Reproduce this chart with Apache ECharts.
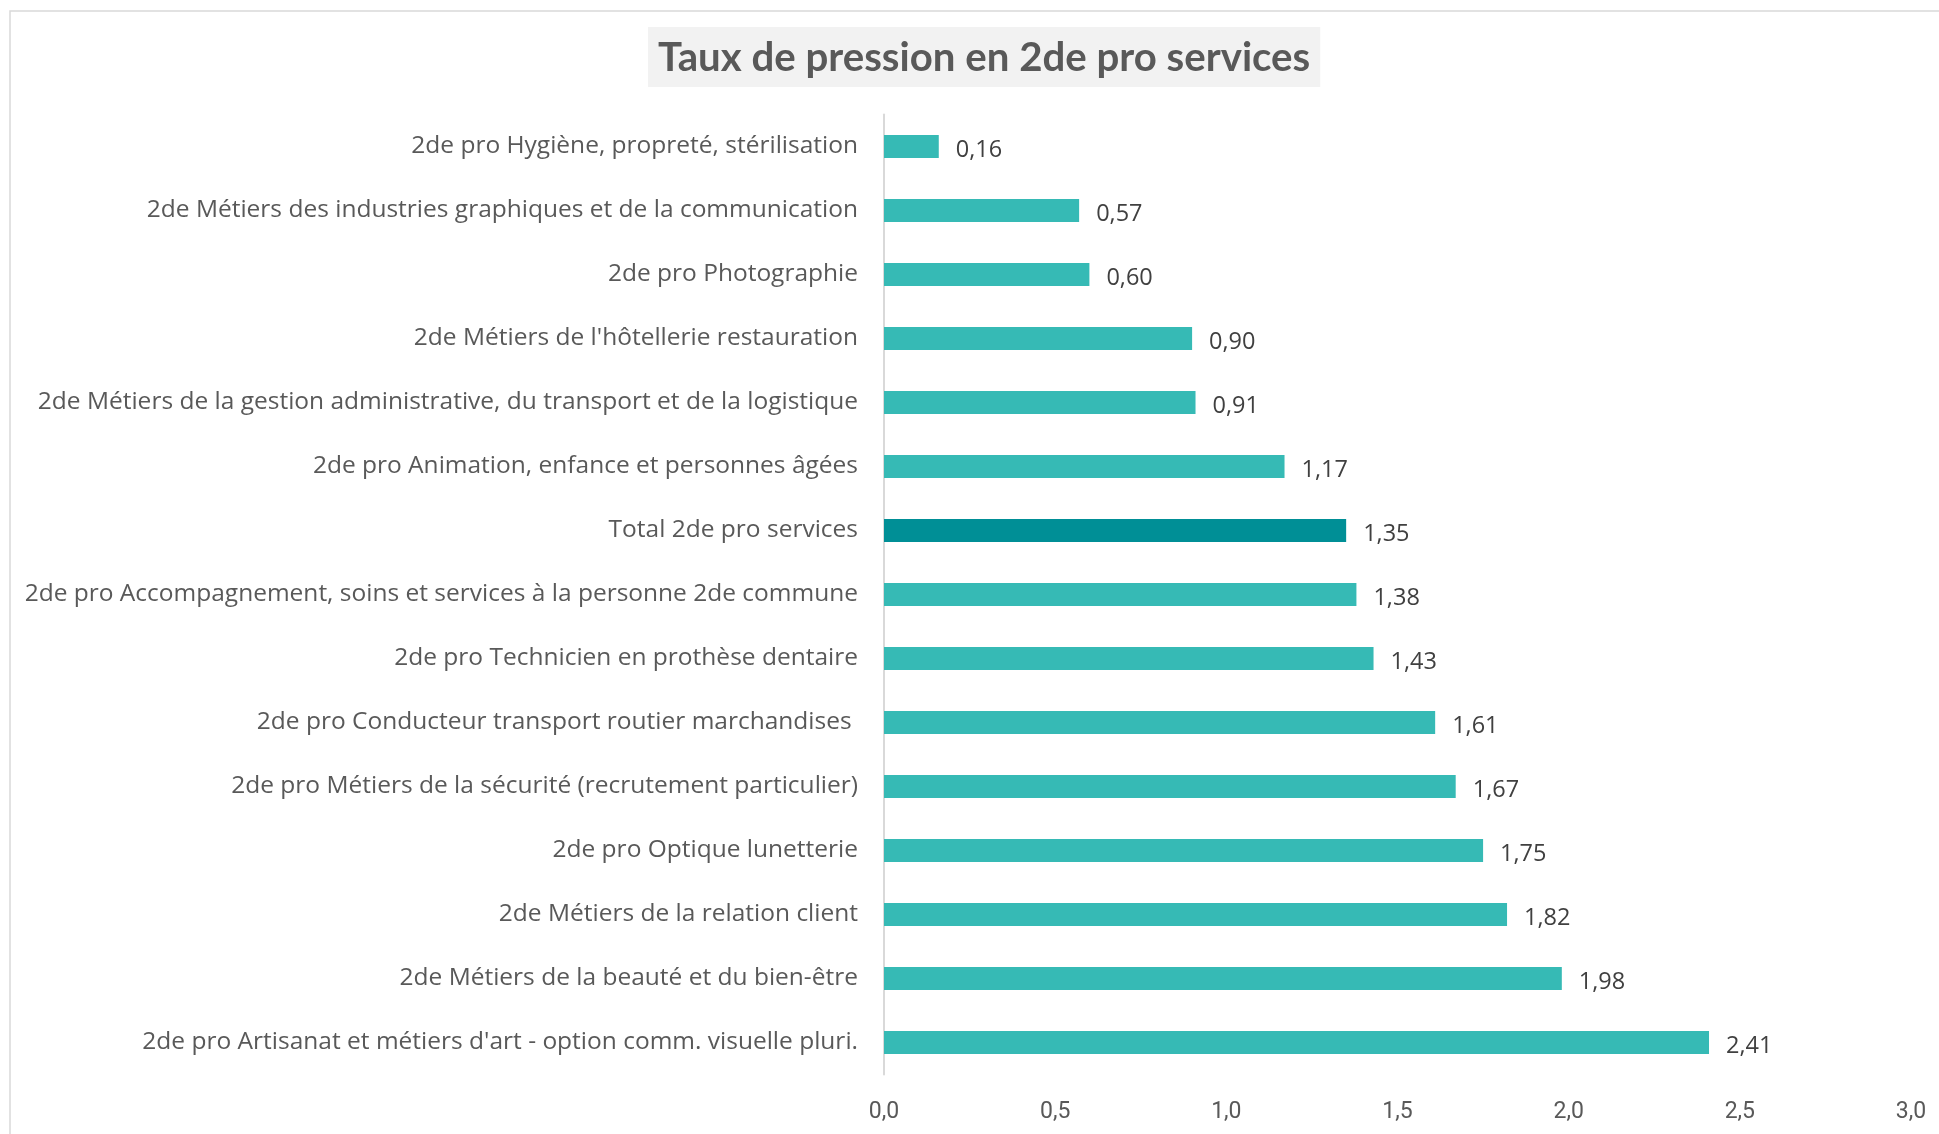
<!DOCTYPE html>
<html>
<head>
<meta charset="utf-8">
<script src="https://cdn.jsdelivr.net/npm/echarts@6/dist/echarts.min.js"></script>
<style>
html,body{margin:0;padding:0;background:#fff;}
#chart{width:1939px;height:1134px;}
</style>
</head>
<body>
<div id="chart"></div>
<script>
const titleText = "Taux de pression en 2de pro services";
const categories = [
  "2de pro Hygiène, propreté, stérilisation",
  "2de Métiers des industries graphiques et de la communication",
  "2de pro Photographie",
  "2de Métiers de l'hôtellerie restauration",
  "2de Métiers de la gestion administrative, du transport et de la logistique",
  "2de pro Animation, enfance et personnes âgées",
  "Total 2de pro services",
  "2de pro Accompagnement, soins et services à la personne 2de commune",
  "2de pro Technicien en prothèse dentaire",
  "2de pro Conducteur transport routier marchandises ",
  "2de pro Métiers de la sécurité (recrutement particulier)",
  "2de pro Optique lunetterie",
  "2de Métiers de la relation client",
  "2de Métiers de la beauté et du bien-être",
  "2de pro Artisanat et métiers d'art - option comm. visuelle pluri."
];
const values = [0.16, 0.57, 0.60, 0.90, 0.91, 1.17, 1.35, 1.38, 1.43, 1.61, 1.67, 1.75, 1.82, 1.98, 2.41];
const highlightCategory = "Total 2de pro services";
const xTicks = [0, 0.5, 1.0, 1.5, 2.0, 2.5, 3.0];

const baseColor = '#36BAB5';
const totalColor = '#008F96';

const chart = echarts.init(document.getElementById('chart'), null, {renderer: 'canvas'});
const seriesData = values.map((v, i) => ({
  value: v,
  itemStyle: {color: categories[i] === highlightCategory ? totalColor : baseColor}
}));

chart.setOption({
  backgroundColor: '#ffffff',
  animation: false,
  title: {
    text: titleText,
    left: 648,
    top: 27,
    backgroundColor: '#F2F2F2',
    padding: [9, 10, 7, 10],
    textStyle: {
      fontFamily: 'Lato',
      fontWeight: 'bold',
      fontSize: 40.2,
      lineHeight: 44,
      color: '#595959'
    }
  },
  graphic: [{
    type: 'rect',
    shape: {x: 10, y: 11, width: 2100, height: 1300},
    style: {fill: 'none', stroke: '#D9D9D9', lineWidth: 1.5},
    silent: true,
    z: -1
  }],
  grid: {
    left: 884,
    right: 28,
    top: 114.5,
    bottom: 59.5,
    containLabel: false
  },
  xAxis: {
    type: 'value',
    min: xTicks[0],
    max: xTicks[xTicks.length - 1],
    interval: 0.5,
    axisLine: {show: false},
    axisTick: {show: false},
    splitLine: {show: false},
    axisLabel: {
      margin: 26,
      fontFamily: 'Roboto',
      fontSize: 23,
      color: '#595959',
      formatter: v => v.toFixed(1).replace('.', ',')
    }
  },
  yAxis: {
    type: 'category',
    data: categories,
    inverse: true,
    axisLine: {show: true, lineStyle: {color: '#D9D9D9', width: 2}},
    axisTick: {show: false},
    axisLabel: {
      margin: 26,
      fontFamily: 'Open Sans',
      fontSize: 24.5,
      color: '#595959',
      padding: [5, 0, 0, 0]
    }
  },
  series: [{
    type: 'bar',
    data: seriesData,
    barWidth: 23,
    label: {
      show: true,
      position: 'right',
      distance: 17,
      offset: [0, 4],
      fontFamily: 'Open Sans',
      fontSize: 23.5,
      color: '#404040',
      formatter: p => p.value.toFixed(2).replace('.', ',')
    }
  }]
});
</script>
</body>
</html>
